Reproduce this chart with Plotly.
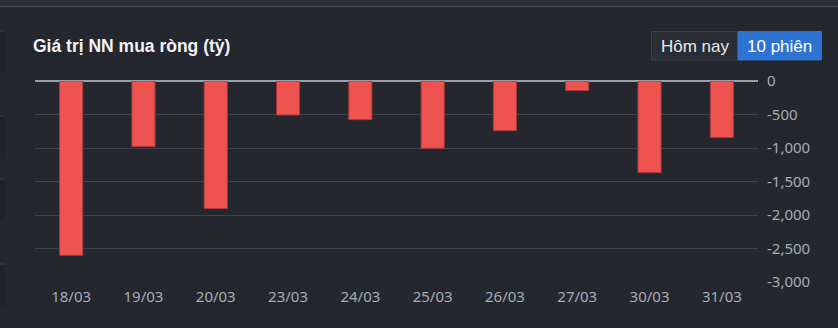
import plotly.graph_objects as go

categories = ["18/03", "19/03", "20/03", "23/03", "24/03", "25/03", "26/03", "27/03", "30/03", "31/03"]
net_buy = [-2602, -980, -1905, -508, -577, -1003, -741, -143, -1368, -845]
y_ticks = [0, -500, -1000, -1500, -2000, -2500, -3000]
y_tick_labels = ["0", "-500", "-1,000", "-1,500", "-2,000", "-2,500", "-3,000"]

W, H = 838, 328
L, R, T, B = 35, 80, 81, 46
PW, PH = W - L - R, H - T - B

def px(x):
    return (x - L) / PW

def py(y):
    return 1 - (y - T) / PH

BG = "#24272e"

fig = go.Figure()
fig.add_trace(go.Bar(
    x=categories, y=net_buy,
    marker=dict(color="#ef5350", line=dict(color="#a8393b", width=1)),
    hoverinfo="x+y",
))

shapes = []
# top strip
shapes.append(dict(type="rect", xref="paper", yref="paper", x0=px(0), x1=px(W), y0=py(6), y1=py(-2),
                   fillcolor="#2a2d35", line=dict(width=0), layer="below"))
shapes.append(dict(type="line", xref="paper", yref="paper", x0=px(0), x1=px(W), y0=py(6.5), y1=py(6.5),
                   line=dict(color="#41444c", width=1.5)))
# left edge blocks
for y0, y1 in [(31, 73), (116, 159), (179, 221), (264, 306)]:
    shapes.append(dict(type="rect", xref="paper", yref="paper", x0=px(-1), x1=px(5), y0=py(y1), y1=py(y0),
                       fillcolor="#1f2227", line=dict(width=0), layer="below"))
    shapes.append(dict(type="line", xref="paper", yref="paper", x0=px(0), x1=px(5), y0=py(y0), y1=py(y0),
                       line=dict(color="#3a3d45", width=1)))
# button group
shapes.append(dict(type="rect", xref="paper", yref="paper", x0=px(651.5), x1=px(738), y0=py(60), y1=py(31.5),
                   fillcolor="#2a2d34", line=dict(color="#3c3f47", width=1)))
shapes.append(dict(type="rect", xref="paper", yref="paper", x0=px(738), x1=px(821.5), y0=py(60), y1=py(31.5),
                   fillcolor="#2e72d2", line=dict(color="#2e72d2", width=1)))

annotations = [
    dict(text="<b>Giá trị NN mua ròng (tỷ)</b>", xref="paper", yref="paper", x=px(31), y=py(46),
         xanchor="left", yanchor="middle", showarrow=False,
         font=dict(family="Liberation Sans, Arial", size=17.5, color="#f2f3f5")),
    dict(text="Hôm nay", xref="paper", yref="paper", x=px(695), y=py(46),
         xanchor="center", yanchor="middle", showarrow=False,
         font=dict(family="Liberation Sans, Arial", size=17, color="#e8e9ec")),
    dict(text="10 phiên", xref="paper", yref="paper", x=px(780), y=py(46),
         xanchor="center", yanchor="middle", showarrow=False,
         font=dict(family="Liberation Sans, Arial", size=17, color="#ffffff")),
]

fig.update_layout(
    width=W, height=H,
    margin=dict(l=L, r=R, t=T, b=B, pad=0),
    paper_bgcolor=BG, plot_bgcolor=BG,
    bargap=0.68,
    showlegend=False,
    shapes=shapes,
    annotations=annotations,
    font=dict(family="Noto Sans, Open Sans, Arial", size=15, color="#a9abb5"),
    xaxis=dict(type="category", showgrid=False, zeroline=False, showline=False,
               ticks="", ticklabelstandoff=4, tickfont=dict(size=15, color="#a9abb5"), fixedrange=True),
    yaxis=dict(side="right", range=[-3000, 0], tickvals=y_ticks, ticktext=y_tick_labels,
               showgrid=True, gridcolor="#41434c", gridwidth=1,
               zeroline=True, zerolinecolor="#9c9eaa", zerolinewidth=2,
               showline=False, ticks="", ticklabelstandoff=8,
               tickfont=dict(size=15, color="#a9abb5"), fixedrange=True),
)

fig.write_html("out.html")
